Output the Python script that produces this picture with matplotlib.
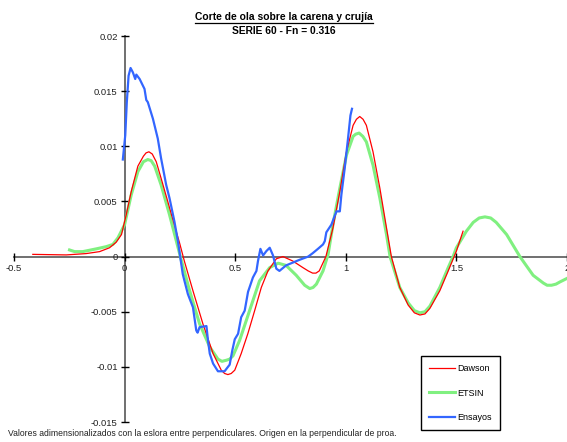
import matplotlib
matplotlib.use('Agg')
from matplotlib import pyplot as plt
from matplotlib.lines import Line2D

# Dawson (potential flow)
dawson_x = [-0.415, -0.264, -0.174, -0.113, -0.068, -0.038, -0.014, 0.0075, 0.03, 0.06, 0.085, 0.097,
            0.11, 0.125, 0.143, 0.165, 0.195, 0.233, 0.249, 0.27, 0.309, 0.354, 0.40, 0.437, 0.452,
            0.467, 0.482, 0.498, 0.527, 0.557, 0.588, 0.618, 0.648, 0.686, 0.716, 0.76, 0.806, 0.83,
            0.85, 0.865, 0.88, 0.91, 0.942, 0.973, 1.003, 1.033, 1.048, 1.063, 1.078, 1.093, 1.123,
            1.154, 1.184, 1.206, 1.244, 1.282, 1.31, 1.335, 1.358, 1.38, 1.425, 1.463, 1.5, 1.53]
dawson_y = [0.0002, 0.00015, 0.00027, 0.00045, 0.0008, 0.0013, 0.002, 0.0038, 0.0059, 0.0082, 0.0091,
            0.0094, 0.0095, 0.0093, 0.0086, 0.0071, 0.005, 0.0023, 0.0012, -0.0004, -0.0031, -0.0061,
            -0.0088, -0.0103, -0.0106, -0.0107, -0.0106, -0.0103, -0.0088, -0.007, -0.0049, -0.0028,
            -0.0013, -0.0002, 0.0, -0.0004, -0.001, -0.0013, -0.0015, -0.0015, -0.0013, 0.0, 0.0026,
            0.0059, 0.0095, 0.0119, 0.01245, 0.0127, 0.01245, 0.0119, 0.0095, 0.0062, 0.0026, 0.0,
            -0.0028, -0.0044, -0.0051, -0.0053, -0.0052, -0.0047, -0.0031, -0.0013, 0.0005, 0.0023]

# ETSIN code
etsin_x = [-0.249, -0.226, -0.189, -0.128, -0.083, -0.053, -0.03, 0.0, 0.03, 0.06, 0.085, 0.105, 0.12,
           0.136, 0.165, 0.203, 0.234, 0.252, 0.294, 0.339, 0.385, 0.422, 0.44, 0.46, 0.475, 0.49,
           0.52, 0.55, 0.58, 0.61, 0.656, 0.694, 0.73, 0.776, 0.814, 0.837, 0.852, 0.867, 0.897, 0.92,
           0.942, 0.973, 1.003, 1.033, 1.045, 1.06, 1.077, 1.093, 1.123, 1.154, 1.184, 1.2, 1.244,
           1.282, 1.31, 1.335, 1.358, 1.38, 1.425, 1.463, 1.485, 1.5, 1.545, 1.576, 1.603, 1.629,
           1.655, 1.68, 1.727, 1.787, 1.847, 1.893, 1.91, 1.93, 1.95, 1.968, 1.998]
etsin_y = [0.0006, 0.00045, 0.00045, 0.0007, 0.0009, 0.0011, 0.0017, 0.0029, 0.0056, 0.0077, 0.0086,
           0.0088, 0.0087, 0.0082, 0.0065, 0.0038, 0.0014, 0.0, -0.0031, -0.0061, -0.0082, -0.0093,
           -0.0095, -0.0094, -0.0093, -0.009, -0.0076, -0.0058, -0.004, -0.0022, -0.001, -0.0006,
           -0.0008, -0.0017, -0.0026, -0.0029, -0.0028, -0.0025, -0.0013, 0.0002, 0.0029, 0.0062,
           0.0092, 0.0109, 0.0111, 0.0112, 0.0109, 0.0104, 0.0083, 0.0053, 0.002, 0.0, -0.0028,
           -0.0042, -0.0049, -0.0051, -0.005, -0.0045, -0.0028, -0.001, 0.0, 0.0008, 0.0023, 0.0031,
           0.0035, 0.0036, 0.0035, 0.0031, 0.002, 0.0, -0.0017, -0.0024, -0.0026, -0.0026, -0.0025,
           -0.0023, -0.002]

# Ensayos (towing tank)
ens_x = [-0.008, 0.003, 0.01, 0.018, 0.027, 0.0375, 0.048, 0.053, 0.068, 0.09, 0.098, 0.105, 0.128,
         0.15, 0.165, 0.188, 0.203, 0.225, 0.241, 0.263, 0.286, 0.309, 0.324, 0.33, 0.339, 0.37, 0.377,
         0.385, 0.40, 0.422, 0.452, 0.475, 0.487, 0.498, 0.513, 0.527, 0.543, 0.558, 0.58, 0.596,
         0.603, 0.614, 0.626, 0.641, 0.656, 0.671, 0.686, 0.70, 0.73, 0.79, 0.83, 0.85, 0.874, 0.897,
         0.905, 0.912, 0.935, 0.95, 0.958, 0.973, 0.98, 0.995, 1.01, 1.021, 1.028]
ens_y = [0.0088, 0.011, 0.014, 0.0164, 0.0171, 0.0167, 0.0161, 0.0165, 0.0161, 0.0152, 0.0142, 0.014,
         0.0125, 0.0107, 0.0089, 0.0065, 0.0053, 0.0032, 0.0014, -0.0016, -0.0034, -0.0046, -0.0067,
         -0.0069, -0.0064, -0.0063, -0.0076, -0.0088, -0.0097, -0.0104, -0.0104, -0.0098, -0.0085,
         -0.0075, -0.007, -0.0055, -0.0049, -0.0032, -0.0019, -0.0013, -0.0004, 0.0007, 0.0001,
         0.0005, 0.0008, 0.0001, -0.0011, -0.0013, -0.0008, -0.0003, 0.0, 0.0003, 0.0007, 0.0011,
         0.0014, 0.0022, 0.0029, 0.0037, 0.0041, 0.0041, 0.0056, 0.008, 0.0107, 0.0128, 0.0134]

xticks = [-0.5, 0, 0.5, 1, 1.5, 2]
yticks = [-0.015, -0.01, -0.005, 0, 0.005, 0.01, 0.015, 0.02]

plt.rcParams['font.family'] = ['Liberation Sans', 'DejaVu Sans']

fig = plt.figure(figsize=(5.67, 4.42), dpi=100)
ax = fig.add_axes([14/567, 20/442, 553/567, 386/442])

ax.plot(etsin_x, etsin_y, c='#80f080', lw=2.2, label='ETSIN', zorder=2, solid_joinstyle='round')
ax.plot(dawson_x, dawson_y, c='#ff0000', lw=0.9, label='Dawson', zorder=3, solid_joinstyle='round')
ax.plot(ens_x, ens_y, c='#3366ff', lw=1.6, label='Ensayos', zorder=4, solid_joinstyle='round')

ax.set_xlim(-0.5, 2.0)
ax.set_ylim(-0.015, 0.02)
ax.spines['left'].set_position(('data', 0))
ax.spines['bottom'].set_position(('data', 0))
ax.spines['top'].set_visible(False)
ax.spines['right'].set_visible(False)
for s in ('left', 'bottom'):
    ax.spines[s].set_color('#707070')
    ax.spines[s].set_linewidth(1.4)
    ax.spines[s].set_zorder(1)
ax.set_xticks(xticks)
ax.set_yticks(yticks)
ax.set_xticklabels([f'{v:g}' for v in xticks])
ax.set_yticklabels([f'{v:g}' for v in yticks])
ax.tick_params(direction='inout', length=6, width=1, color='black', labelsize=6.8, labelcolor='#222222')
ax.tick_params(axis='x', pad=2)
ax.tick_params(axis='y', pad=2)
ax.patch.set_visible(False)

h, l = ax.get_legend_handles_labels()
order = [1, 0, 2]
leg = ax.legend([h[i] for i in order], [l[i] for i in order], loc='upper left',
                bbox_to_anchor=(421/567, 1-356/442), bbox_transform=fig.transFigure,
                fancybox=False, edgecolor='black', fontsize=6.5, handlelength=2.9,
                handletextpad=0.2, labelspacing=1.7, borderpad=0.91, borderaxespad=0, framealpha=1)
leg.get_frame().set_linewidth(1.0)

t = fig.text(284/567, 1-17/442, 'Corte de ola sobre la carena y crujía', ha='center', va='center',
             fontsize=7.4, fontweight='bold')
fig.text(284/567, 1-31/442, 'SERIE 60 - Fn = 0.316', ha='center', va='center',
         fontsize=7.4, fontweight='bold')
fig.text(8/567, 1-434/442, 'Valores adimensionalizados con la eslora entre perpendiculares. '
         'Origen en la perpendicular de proa.', ha='left', va='center', fontsize=6.25, color='#222222')

# underline the title
fig.canvas.draw()
bb = t.get_window_extent()
yline = (bb.y0 - 0.5) / fig.bbox.height
fig.add_artist(Line2D([bb.x0 / fig.bbox.width, bb.x1 / fig.bbox.width], [yline, yline],
                      transform=fig.transFigure, color='black', lw=0.9))

fig.savefig('out.png', dpi=100)
